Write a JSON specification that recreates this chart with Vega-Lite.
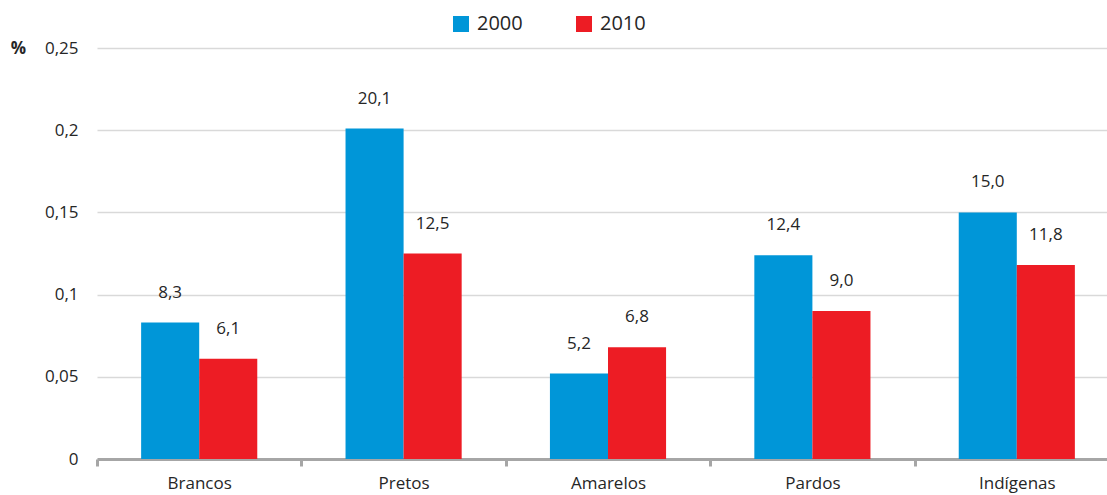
{
  "$schema": "https://vega.github.io/schema/vega-lite/v6.json",
  "width": 1022,
  "height": 411,
  "autosize": {"type": "none"},
  "padding": {"left": 97, "top": 48, "right": 0, "bottom": 36},
  "config": {
    "locale": {"number": {"decimal": ",", "thousands": ".", "grouping": [3], "currency": ["R$", ""]}},
    "view": {"stroke": null},
    "font": "Open Sans"
  },
  "data": {
    "values": [
      {"grupo": "Brancos", "ano": "2000", "valor": 8.3},
      {"grupo": "Brancos", "ano": "2010", "valor": 6.1},
      {"grupo": "Pretos", "ano": "2000", "valor": 20.1},
      {"grupo": "Pretos", "ano": "2010", "valor": 12.5},
      {"grupo": "Amarelos", "ano": "2000", "valor": 5.2},
      {"grupo": "Amarelos", "ano": "2010", "valor": 6.8},
      {"grupo": "Pardos", "ano": "2000", "valor": 12.4},
      {"grupo": "Pardos", "ano": "2010", "valor": 9.0},
      {"grupo": "Indígenas", "ano": "2000", "valor": 15.0},
      {"grupo": "Indígenas", "ano": "2010", "valor": 11.8}
    ]
  },
  "encoding": {
    "x": {
      "field": "grupo", "type": "nominal",
      "sort": ["Brancos", "Pretos", "Amarelos", "Pardos", "Indígenas"],
      "scale": {"paddingInner": 0, "paddingOuter": 0},
      "axis": {
        "title": null, "labelAngle": 0, "labelFontSize": 17, "labelColor": "#262626",
        "domainColor": "#a6a6a6", "domainWidth": 3, "tickColor": "#a6a6a6", "tickWidth": 3,
        "tickSize": 7, "tickBand": "extent", "labelPadding": 9, "grid": false
      }
    },
    "xOffset": {"field": "ano", "type": "nominal", "scale": {"paddingInner": 0, "paddingOuter": 0.76}},
    "y": {
      "field": "valor", "type": "quantitative",
      "scale": {"domain": [0, 25]},
      "axis": {
        "values": [0, 5, 10, 15, 20, 25],
        "labelExpr": "format(datum.value / 100, '.2~f')",
        "title": "%", "titleAngle": 0, "titleX": -79, "titleY": 0, "titleAlign": "center",
        "titleBaseline": "middle", "titleFontSize": 17, "titleFontWeight": "bold", "titleColor": "#262626",
        "labelFontSize": 17, "labelColor": "#262626", "labelPadding": 19,
        "ticks": false, "tickSize": 0, "domain": false,
        "gridColor": "#d9d9d9", "gridWidth": 1.5
      }
    }
  },
  "layer": [
    {
      "mark": {"type": "bar"},
      "encoding": {
        "color": {
          "field": "ano", "type": "nominal",
          "scale": {"domain": ["2000", "2010"], "range": ["#0096D8", "#ED1C24"]},
          "legend": {
            "title": null, "orient": "none", "legendX": 354, "legendY": -34,
            "direction": "horizontal", "symbolType": "square", "symbolSize": 256,
            "symbolStrokeWidth": 0, "labelFontSize": 20, "labelColor": "#262626",
            "labelOffset": 6, "columnPadding": 51
          }
        }
      }
    },
    {
      "mark": {"type": "text", "baseline": "middle", "dy": -30, "fontSize": 17, "color": "#262626"},
      "encoding": {"text": {"field": "valor", "type": "quantitative", "format": ".1f"}}
    }
  ]
}
